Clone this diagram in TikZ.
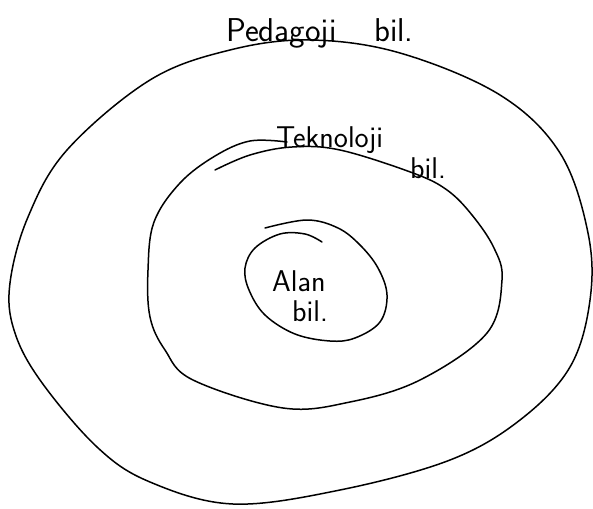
\documentclass[tikz,border=0pt]{standalone}
\begin{document}
\begin{tikzpicture}[x=1pt,y=-1pt,
  pen/.style={line width=1.5pt,line cap=round,line join=round},
  hand/.style={font=\sffamily\fontsize{33}{35}\selectfont,inner sep=0pt,anchor=base west},
  handmid/.style={font=\sffamily\fontsize{30}{32}\selectfont,inner sep=0pt,anchor=base west}]
\useasboundingbox (0,0) rectangle (593,508);
% outer (Pedagoji)
\draw[pen] plot[smooth cycle,tension=0.6] coordinates{
 (310,40) (400,53) (500,95) (560,153) (588,233) (590,300) (570,367) (520,420) (450,460) (340,490)
 (233,504) (150,482) (97,447) (40,380) (14,330) (10,283) (28,217) (67,150) (150,80) (230,50)};
% middle (Teknoloji)
\draw[pen] plot[smooth,tension=0.6] coordinates{
 (215,170) (250,155) (292,147) (340,150) (413,173) (447,190) (472,215) (494,248) (502,280)
 (487,333) (420,380) (350,402) (283,408) (193,380) (165,350) (150,317) (148,270) (154,222) (180,183) (215,156) (250,141) (287,142)};
% inner (Alan)
\draw[pen] plot[smooth,tension=0.6] coordinates{
 (265,228) (307,220) (338,228) (360,245) (378,268) (387,295) (380,322) (355,338) (330,341) (295,334)
 (265,315) (249,290) (245,268) (255,248) (280,234) (305,234) (322,242)};
% labels
\node[hand] (ped) at (226,42) {Pedagoji};
\node[hand] (pedb) at (374,42) {bil.};
\node[handmid] (tek) at (276,147) {Teknoloji};
\node[handmid] (tekb) at (410,178) {bil.};
\node[handmid] (alan) at (272,291) {Alan};
\node[handmid] (alanb) at (292,321) {bil.};
\end{tikzpicture}
\end{document}
